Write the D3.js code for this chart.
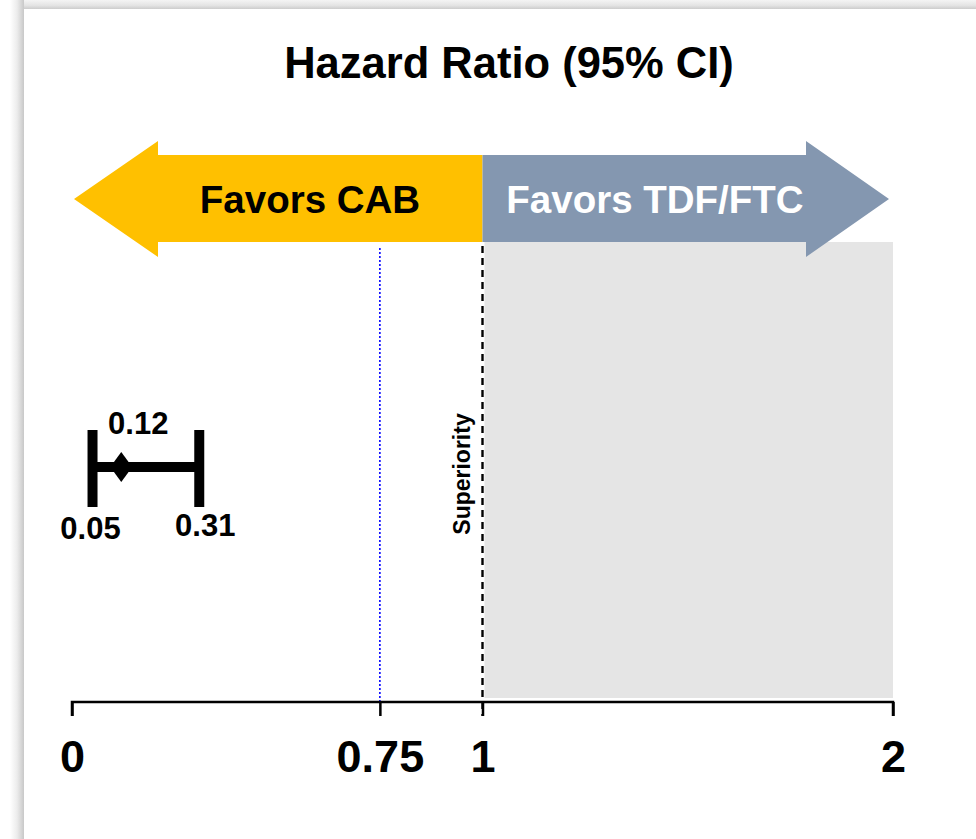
<!DOCTYPE html>
<html><head><meta charset="utf-8">
<script src="https://cdn.jsdelivr.net/npm/d3@7"></script>
<style>html,body{margin:0;padding:0;background:#fff;}svg{display:block;}</style>
</head><body>
<svg id="chart" width="976" height="839"></svg>
<script>
// ---- data ----
const titleText = "Hazard Ratio (95% CI)";
const tickValues = [0, 0.75, 1, 2];
const tickLabels = ["0", "0.75", "1", "2"];
const pointEstimates = [0.12];
const lowerCI = [0.05];
const upperCI = [0.31];
const nonInferiorityMargin = [0.75];
const superiorityLine = [1];
const superiorityLabel = ["Superiority"];
const favorLabels = ["Favors CAB", "Favors TDF/FTC"];
const favorColors = ["#FFC000", "#8497B0"];
const domainX = [0, 2];

// ---- layout ----
const W = 976, H = 839;
const svg = d3.select("#chart");
const font = "'Liberation Sans', Arial, sans-serif";
const x = d3.scaleLinear().domain(domainX).range([72, 893]);
const axisY = 702, plotTop = 242;

// frame shadow
const defs = svg.append("defs");
const gl = defs.append("linearGradient").attr("id","gl").attr("x1","0").attr("x2","1").attr("y1","0").attr("y2","0");
gl.append("stop").attr("offset","0").attr("stop-color","#ffffff");
gl.append("stop").attr("offset","0.5").attr("stop-color","#ececec");
gl.append("stop").attr("offset","1").attr("stop-color","#c8c8c8");
const gt = defs.append("linearGradient").attr("id","gt").attr("x1","0").attr("x2","0").attr("y1","0").attr("y2","1");
gt.append("stop").attr("offset","0").attr("stop-color","#f4f4f4");
gt.append("stop").attr("offset","0.6").attr("stop-color","#e4e4e4");
gt.append("stop").attr("offset","1").attr("stop-color","#cccccc");
svg.append("rect").attr("x",0).attr("y",0).attr("width",W).attr("height",H).attr("fill","#fff");
svg.append("rect").attr("x",10).attr("y",0).attr("width",W-10).attr("height",9).attr("fill","url(#gt)");
svg.append("rect").attr("x",10).attr("y",0).attr("width",14).attr("height",H).attr("fill","url(#gl)");

// title
svg.append("text").attr("x", 509).attr("y", 78).attr("text-anchor","middle")
  .attr("font-family", font).attr("font-weight","bold").attr("font-size", 43.5)
  .attr("fill","#000").text(titleText);

// gray region (x > 1)
svg.append("rect").attr("x", x(superiorityLine[0]) + 2).attr("y", plotTop)
  .attr("width", x(domainX[1]) - x(superiorityLine[0]) - 2).attr("height", axisY - 4 - plotTop)
  .attr("fill", "#E5E5E5");

// arrows
const bodyTop = 155, bodyBot = 242, headTop = 141, headBot = 257, midY = 199;
const xMid = x(superiorityLine[0]);
const leftPath = d3.path();
leftPath.moveTo(xMid, bodyTop); leftPath.lineTo(158, bodyTop); leftPath.lineTo(158, headTop);
leftPath.lineTo(74, midY); leftPath.lineTo(158, headBot); leftPath.lineTo(158, bodyBot);
leftPath.lineTo(xMid, bodyBot); leftPath.closePath();
const rightPath = d3.path();
rightPath.moveTo(xMid, bodyTop); rightPath.lineTo(806, bodyTop); rightPath.lineTo(806, headTop);
rightPath.lineTo(889, midY); rightPath.lineTo(806, headBot); rightPath.lineTo(806, bodyBot);
rightPath.lineTo(xMid, bodyBot); rightPath.closePath();
svg.append("path").attr("d", leftPath.toString()).attr("fill", favorColors[0]);
svg.append("path").attr("d", rightPath.toString()).attr("fill", favorColors[1]);
svg.append("text").attr("x", 310).attr("y", 213).attr("text-anchor","middle")
  .attr("font-family", font).attr("font-weight","bold").attr("font-size", 38.5)
  .attr("fill","#000").text(favorLabels[0]);
svg.append("text").attr("x", 655).attr("y", 213).attr("text-anchor","middle")
  .attr("font-family", font).attr("font-weight","bold").attr("font-size", 38.5)
  .attr("fill","#fff").text(favorLabels[1]);

// non-inferiority margin (blue dotted)
svg.selectAll("line.margin").data(nonInferiorityMargin).join("line").attr("class","margin")
  .attr("x1", d => x(d)).attr("x2", d => x(d)).attr("y1", 248).attr("y2", axisY)
  .attr("stroke", "#0000FF").attr("stroke-width", 1.6).attr("stroke-dasharray", "2,2");

// superiority dashed line
svg.selectAll("line.sup").data(superiorityLine).join("line").attr("class","sup")
  .attr("x1", d => x(d)).attr("x2", d => x(d)).attr("y1", 246).attr("y2", 716)
  .attr("stroke", "#000").attr("stroke-width", 2.4).attr("stroke-dasharray", "7,5");
svg.selectAll("text.sup").data(superiorityLabel).join("text").attr("class","sup")
  .attr("transform", `translate(${x(superiorityLine[0]) - 13},474) rotate(-90)`)
  .attr("text-anchor","middle").attr("font-family", font).attr("font-weight","bold")
  .attr("font-size", 23).attr("fill","#000").text(d => d);

// axis
const axis = d3.axisBottom(x).tickValues(tickValues).tickSize(14)
  .tickFormat((d, i) => tickLabels[i]);
const gAxis = svg.append("g").attr("transform", `translate(0,${axisY})`).call(axis);
gAxis.select(".domain").attr("d", `M${x(domainX[0])},14V0H${x(domainX[1])}V14`)
  .attr("stroke","#000").attr("stroke-width", 2.5);
gAxis.selectAll(".tick line").attr("stroke","#000").attr("stroke-width", 2.5);
gAxis.selectAll(".tick text").attr("font-family", font).attr("font-weight","bold")
  .attr("font-size", 45).attr("fill","#000").attr("y", 70).attr("dy", 0);

// CI
const ciY = 467;
const ci = pointEstimates.map((p, i) => ({p, lo: lowerCI[i], hi: upperCI[i]}));
const gCI = svg.append("g");
gCI.selectAll("line.bar").data(ci).join("line").attr("class","bar")
  .attr("x1", d => x(d.lo)).attr("x2", d => x(d.hi)).attr("y1", ciY).attr("y2", ciY)
  .attr("stroke","#000").attr("stroke-width", 10);
gCI.selectAll("line.wl").data(ci).join("line").attr("class","wl")
  .attr("x1", d => x(d.lo)).attr("x2", d => x(d.lo)).attr("y1", 430).attr("y2", 507)
  .attr("stroke","#000").attr("stroke-width", 10);
gCI.selectAll("line.wh").data(ci).join("line").attr("class","wh")
  .attr("x1", d => x(d.hi)).attr("x2", d => x(d.hi)).attr("y1", 430).attr("y2", 507)
  .attr("stroke","#000").attr("stroke-width", 10);
gCI.selectAll("path.pt").data(ci).join("path").attr("class","pt")
  .attr("d", d => `M${x(d.p)},${ciY-15}L${x(d.p)+11},${ciY}L${x(d.p)},${ciY+15}L${x(d.p)-11},${ciY}Z`)
  .attr("fill","#000");
gCI.selectAll("text.pt").data(ci).join("text").attr("class","pt")
  .attr("x", d => x(d.p) + 17).attr("y", 434).attr("text-anchor","middle")
  .attr("font-family", font).attr("font-weight","bold").attr("font-size", 31)
  .attr("fill","#000").text(d => d3.format(".2f")(d.p));
gCI.selectAll("text.lo").data(ci).join("text").attr("class","lo")
  .attr("x", d => x(d.lo) - 2).attr("y", 539).attr("text-anchor","middle")
  .attr("font-family", font).attr("font-weight","bold").attr("font-size", 31)
  .attr("fill","#000").text(d => d3.format(".2f")(d.lo));
gCI.selectAll("text.hi").data(ci).join("text").attr("class","hi")
  .attr("x", d => x(d.hi) + 6).attr("y", 536).attr("text-anchor","middle")
  .attr("font-family", font).attr("font-weight","bold").attr("font-size", 31)
  .attr("fill","#000").text(d => d3.format(".2f")(d.hi));
</script>
</body></html>
